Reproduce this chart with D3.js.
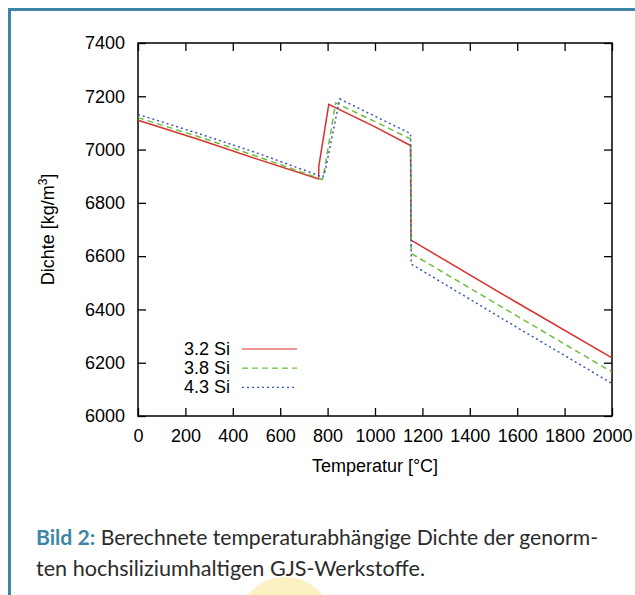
<!DOCTYPE html>
<html>
<head>
<meta charset="utf-8">
<script src="https://cdn.jsdelivr.net/npm/d3@7"></script>
<style>
  body { margin: 0; background: #fff; }
  svg { display: block; }
</style>
</head>
<body>
<div id="chart-area"></div>
<script>
// temperature / density points
var si32T = [0, 250, 500, 762, 763, 805, 1000, 1150, 1152, 1600, 2000];
var si32D = [7110, 7040, 6965, 6890, 6938, 7170, 7085, 7015, 6660, 6425, 6218];

var si38T = [0, 250, 500, 777, 783, 834, 1000, 1150, 1153, 1600, 2000];
var si38D = [7120, 7050, 6975, 6888, 6905, 7175, 7105, 7040, 6610, 6375, 6165];

var si43T = [0, 250, 500, 780, 790, 851, 1000, 1150, 1153, 1600, 2000];
var si43D = [7132, 7062, 6988, 6897, 6920, 7190, 7125, 7060, 6570, 6332, 6122];

var seriesNames = ["3.2 Si", "3.8 Si", "4.3 Si"];
var seriesColors = ["#d9302c", "#6cbf3c", "#3a57b8"];
var seriesDash = ["none", "6,4", "2,3"];

var xTicks = [0, 200, 400, 600, 800, 1000, 1200, 1400, 1600, 1800, 2000];
var yTicks = [6000, 6200, 6400, 6600, 6800, 7000, 7200, 7400];

var series = [
  si32T.map(function(t, i) { return {t: t, d: si32D[i]}; }),
  si38T.map(function(t, i) { return {t: t, d: si38D[i]}; }),
  si43T.map(function(t, i) { return {t: t, d: si43D[i]}; })
];

var W = 635, H = 595;
var margin = {top: 43, right: 23, bottom: 179, left: 138};
var width = W - margin.left - margin.right,
    height = H - margin.top - margin.bottom;
var font = "'Liberation Sans', Arial, sans-serif";

var root = d3.select("#chart-area").append("svg")
    .attr("width", W)
    .attr("height", H);

// faint yellow circle at the bottom
root.append("circle")
    .attr("cx", 285).attr("cy", 625).attr("r", 48)
    .attr("fill", "#fdf1c4");

// blue frame (left + top)
root.append("path")
    .attr("d", "M9.5," + H + " V9.5 H" + W)
    .attr("fill", "none")
    .attr("stroke", "#3f86a6")
    .attr("stroke-width", 3);

var svg = root.append("g")
    .attr("transform", "translate(" + margin.left + "," + margin.top + ")");

var x = d3.scaleLinear().domain([0, 2000]).range([0, width]);
var y = d3.scaleLinear().domain([6000, 7400]).range([height, 0]);

// axes, ticks pointing inward, mirrored
svg.append("g")
    .attr("transform", "translate(0," + height + ")")
    .call(d3.axisBottom(x).tickValues(xTicks).tickFormat(d3.format("d")).tickSizeInner(-8).tickSizeOuter(0).tickPadding(13));
svg.append("g")
    .call(d3.axisLeft(y).tickValues(yTicks).tickFormat(d3.format("d")).tickSizeInner(-8).tickSizeOuter(0).tickPadding(13));
svg.append("g")
    .call(d3.axisTop(x).tickValues(xTicks).tickSizeInner(-8).tickSizeOuter(0).tickFormat(""));
svg.append("g")
    .attr("transform", "translate(" + width + ",0)")
    .call(d3.axisRight(y).tickValues(yTicks).tickSizeInner(-8).tickSizeOuter(0).tickFormat(""));

svg.selectAll(".domain").remove();
svg.selectAll(".tick line").attr("stroke", "#000").attr("stroke-width", 1.3);
svg.selectAll(".tick text")
    .attr("fill", "#000")
    .style("font-family", font)
    .style("font-size", "18px");

svg.append("rect")
    .attr("width", width).attr("height", height)
    .attr("fill", "none").attr("stroke", "#000").attr("stroke-width", 1.5);

// curves
var line = d3.line()
    .x(function(d) { return x(d.t); })
    .y(function(d) { return y(d.d); });

svg.selectAll(".curve")
    .data(series)
  .enter().append("path")
    .attr("class", "curve")
    .attr("d", line)
    .attr("fill", "none")
    .attr("stroke", function(d, i) { return seriesColors[i]; })
    .attr("stroke-width", 1.5)
    .attr("stroke-dasharray", function(d, i) { return seriesDash[i]; });

// legend
var legend = svg.selectAll(".legend")
    .data(seriesNames)
  .enter().append("g")
    .attr("class", "legend")
    .attr("transform", function(d, i) { return "translate(0," + (306 + i * 19.2) + ")"; });

legend.append("text")
    .attr("x", 92)
    .attr("y", 6)
    .attr("text-anchor", "end")
    .style("font-family", font)
    .style("font-size", "18px")
    .text(function(d) { return d; });

legend.append("line")
    .attr("x1", 104).attr("x2", 159)
    .attr("stroke", function(d, i) { return seriesColors[i]; })
    .attr("stroke-width", 1.2)
    .attr("stroke-dasharray", function(d, i) { return seriesDash[i]; });

// axis titles
svg.append("text")
    .attr("x", width / 2)
    .attr("y", height + 56)
    .attr("text-anchor", "middle")
    .style("font-family", font)
    .style("font-size", "18px")
    .text("Temperatur [°C]");

var yTitle = svg.append("text")
    .attr("transform", "translate(-84," + (height / 2) + ") rotate(-90)")
    .attr("text-anchor", "middle")
    .style("font-family", font)
    .style("font-size", "18px");
yTitle.append("tspan").text("Dichte [kg/m");
yTitle.append("tspan").attr("dy", -7).style("font-size", "12px").text("3");
yTitle.append("tspan").attr("dy", 7).text("]");

// caption
var cap = root.append("g")
    .style("font-family", "Lato, 'Noto Sans', sans-serif")
    .style("font-size", "21px")
    .attr("fill", "#2b2b2b");
var l1 = cap.append("text").attr("x", 36).attr("y", 545)
    .attr("textLength", 562).attr("lengthAdjust", "spacingAndGlyphs");
l1.append("tspan").attr("fill", "#3f86a6").style("font-weight", "bold").text("Bild 2:");
l1.append("tspan").text(" Berechnete temperaturabhängige Dichte der genorm-");
cap.append("text").attr("x", 36).attr("y", 576)
    .attr("textLength", 389).attr("lengthAdjust", "spacingAndGlyphs")
    .text("ten hochsiliziumhaltigen GJS-Werkstoffe.");
</script>
</body>
</html>
